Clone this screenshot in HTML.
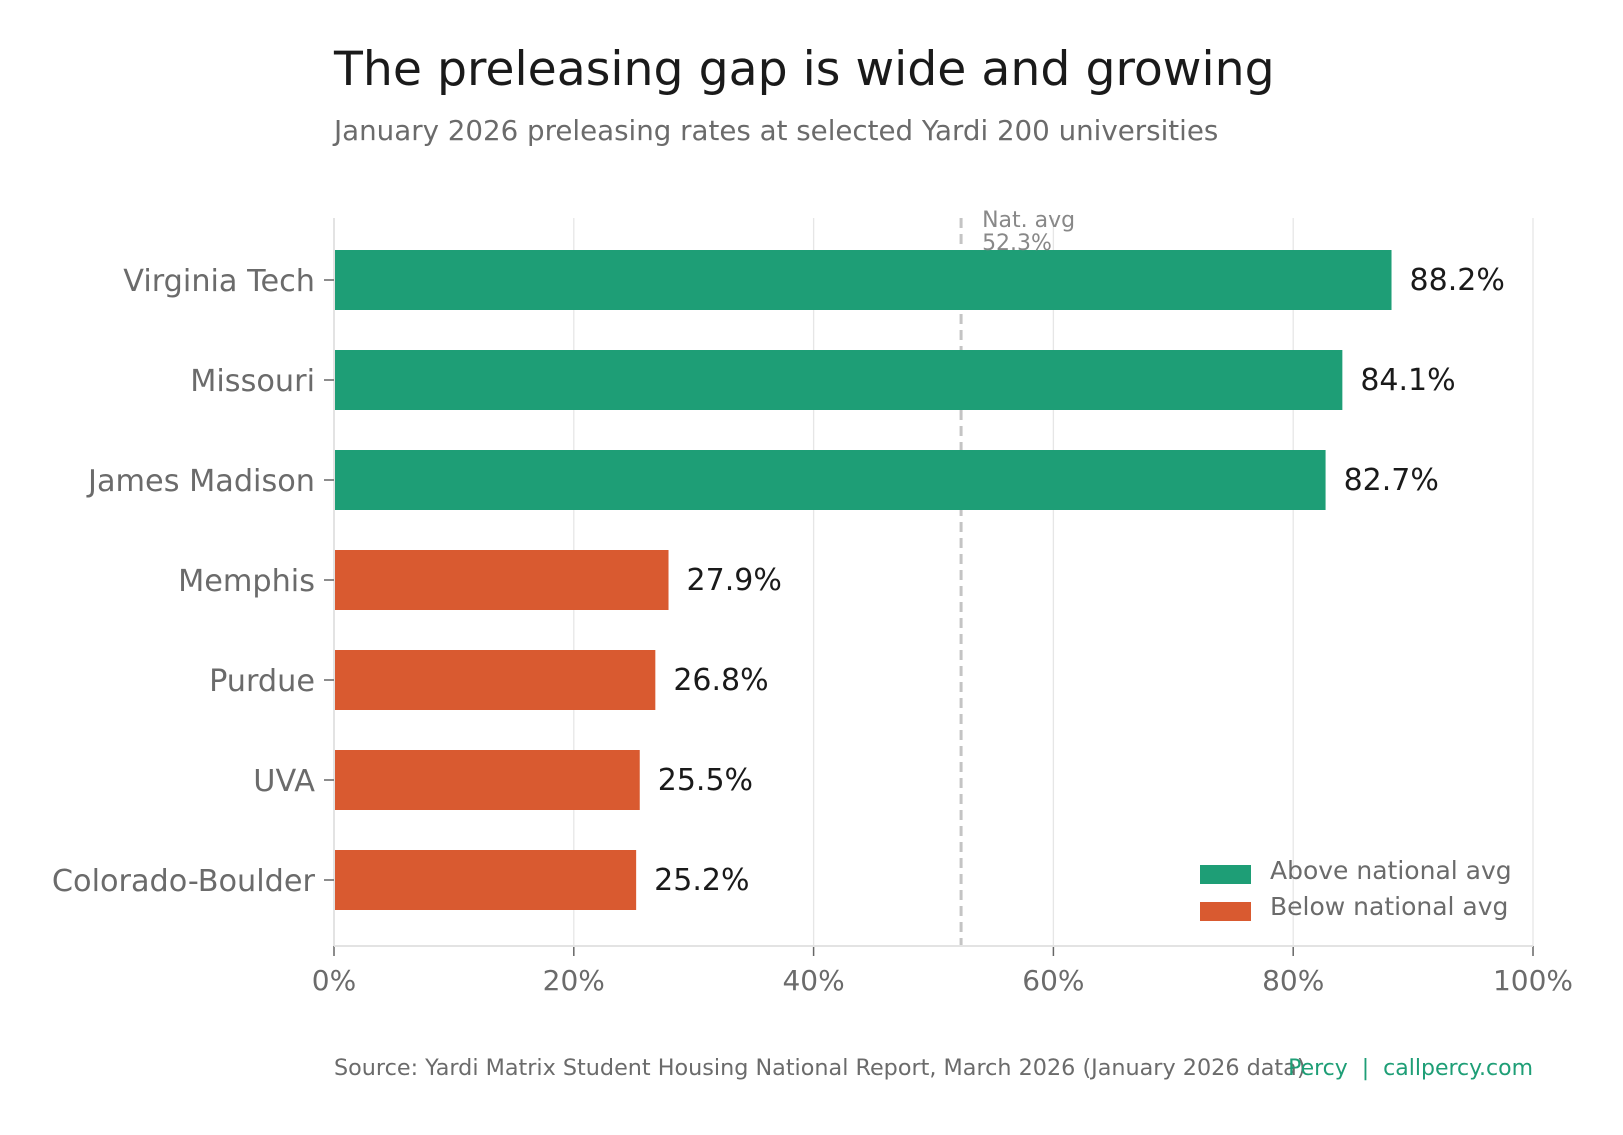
<!DOCTYPE html>
<html><head><meta charset="utf-8"><style>
body{margin:0;background:#fff;}
svg text{font-family:"DejaVu Sans","Liberation Sans",sans-serif;}
</style></head><body>
<svg width="1623" height="1130" xmlns="http://www.w3.org/2000/svg">
<text x="334" y="85" font-size="47.3" fill="#1a1a1a">The preleasing gap is wide and growing</text>
<text x="334" y="140" font-size="27.7" fill="#6b6b6b">January 2026 preleasing rates at selected Yardi 200 universities</text>
<g id="grid"></g>
<g id="bars"></g>
<g id="axes"></g>
<g>
<rect x="1200" y="865" width="51" height="19" fill="#1e9e76"/>
<text x="1270" y="879" font-size="25" fill="#6b6b6b">Above national avg</text>
<rect x="1200" y="902" width="51" height="19" fill="#d95a30"/>
<text x="1270" y="915" font-size="25" fill="#6b6b6b">Below national avg</text>
</g>
<text x="334" y="1075" font-size="22.3" fill="#6b6b6b">Source: Yardi Matrix Student Housing National Report, March 2026 (January 2026 data)</text>
<text x="1533" y="1075" font-size="22" fill="#1e9e76" text-anchor="end">Percy&#160;&#160;|&#160;&#160;callpercy.com</text>
<script>
const categories=["Virginia Tech","Missouri","James Madison","Memphis","Purdue","UVA","Colorado-Boulder"];
const values=[88.2,84.1,82.7,27.9,26.8,25.5,25.2];
const natAvg=52.3;
const xTicks=[0,20,40,60,80,100];
const NS="http://www.w3.org/2000/svg";
const plotX0=334,plotX1=1533,plotTop=218,plotBottom=946;
const xs=v=>plotX0+(plotX1-plotX0)*v/100;
const ys=i=>280+i*100;
function mk(tag,at,parent,txt){const e=document.createElementNS(NS,tag);for(const k in at)e.setAttribute(k,at[k]);if(txt!==undefined)e.textContent=txt;parent.appendChild(e);return e;}
const grid=document.getElementById('grid'),bars=document.getElementById('bars'),axes=document.getElementById('axes');
xTicks.forEach(t=>{
 const g=mk('line',{x1:xs(t),x2:xs(t),y1:plotTop,y2:plotBottom,stroke:'#e6e6e6','stroke-width':1.3},grid);
 
 
 const tk=mk('line',{x1:xs(t),x2:xs(t),y1:plotBottom,y2:plotBottom+10,stroke:'#666','stroke-width':1.5},axes);
 
 
 const lb=mk('text',{x:xs(t),y:990,'font-size':28,fill:'#6b6b6b','text-anchor':'middle'},axes,t+'%');
 
 
});
const ax=mk('line',{x1:plotX0,x2:plotX1,y1:plotBottom,y2:plotBottom,stroke:'#e3e3e3','stroke-width':2},axes);


const yl=mk('line',{x1:plotX0,x2:plotX0,y1:plotTop,y2:plotBottom,stroke:'#e3e3e3','stroke-width':2},axes);


const nl=mk('line',{x1:xs(natAvg),x2:xs(natAvg),y1:plotTop,y2:plotBottom,stroke:'#c4c4c4','stroke-width':3,'stroke-dasharray':'10,6'},grid);


const n1=mk('text',{x:xs(natAvg)+21,y:227,'font-size':22,fill:'#888'},axes,'Nat. avg');


const n2=mk('text',{x:xs(natAvg)+21,y:250,'font-size':22,fill:'#888'},axes,natAvg+'%');


categories.forEach((c,i)=>{
 const v=values[i],y=ys(i);
 const r=mk('rect',{x:plotX0,y:y-30,width:xs(v)-plotX0,height:60,fill:v>=natAvg?'#1e9e76':'#d95a30'},bars);
 
 
 const vl=mk('text',{x:xs(v)+18,y:y+10,'font-size':30,fill:'#1a1a1a'},bars,v.toFixed(1)+'%');
 
 
 const tk=mk('line',{x1:plotX0-10,x2:plotX0,y1:y,y2:y,stroke:'#666','stroke-width':1.5},axes);
 
 
 const cl=mk('text',{x:plotX0-19,y:y+11,'font-size':30.3,fill:'#6b6b6b','text-anchor':'end'},axes,c);
 
 
});
</script>
</svg>
</body></html>
